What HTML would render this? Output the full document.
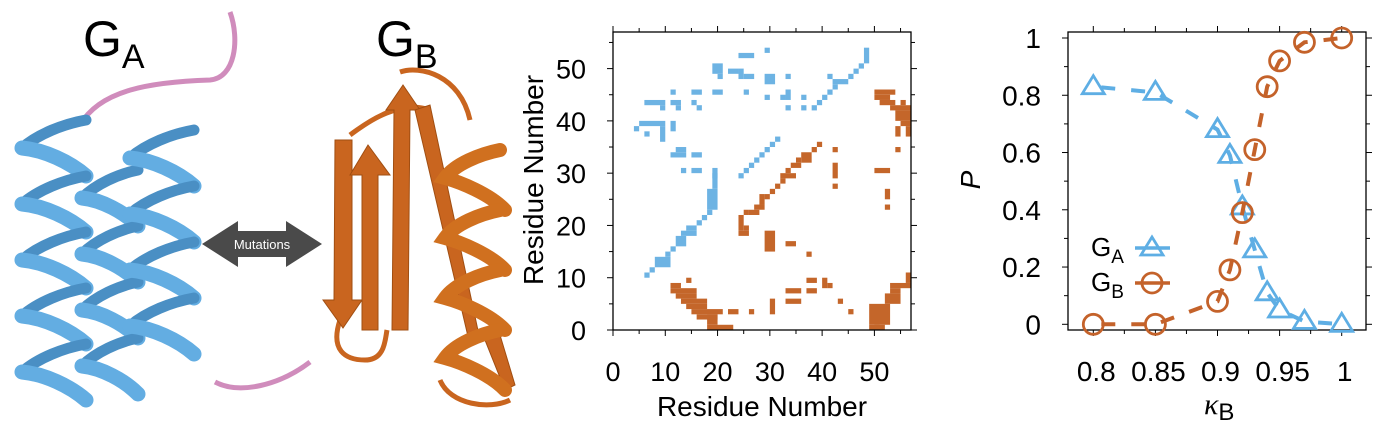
<!DOCTYPE html>
<html><head><meta charset="utf-8"><style>
body{margin:0;background:#fff;width:1384px;height:431px;overflow:hidden;font-family:"Liberation Sans",sans-serif}
svg{position:absolute;left:0;top:0}
</style></head><body>
<svg id="fig" width="1384" height="431" viewBox="0 0 1384 431">
<g id="proteins">
 <text x="83" y="56" font-size="50">G<tspan font-size="34" dy="12">A</tspan></text>
 <text x="376" y="56" font-size="50">G<tspan font-size="34" dy="12">B</tspan></text>
 <path d="M80,125 C100,90 150,82 210,80 C235,78 240,40 230,12" fill="none" stroke="#d08cbc" stroke-width="5"/>
 <path d="M215,382 C240,395 280,385 310,362" fill="none" stroke="#d08cbc" stroke-width="5"/>
 <g id="helices"></g>
 <g fill="#c9651f" stroke="#a04e12" stroke-width="1">
  <path d="M400,72 C420,65 460,75 470,120 M350,135 C370,120 400,100 430,110 M340,320 C330,350 345,360 365,360 C385,360 385,340 387,330 M440,380 C450,405 490,410 510,400" fill="none" stroke="#c9651f" stroke-width="5"/>
  <polygon points="335,140 352,140 352,300 362,300 343,328 323,300 334,300"/>
  <polygon points="362,330 378,330 378,175 390,175 368,145 350,175 362,175"/>
  <polygon points="392,330 408,330 410,110 420,110 403,85 386,110 394,110"/>
  <polygon points="415,110 430,105 480,340 470,345"/>
  <polygon points="485,340 500,335 515,385 505,390"/>
 </g>
 <g id="gbhelix"></g>
 <g>
  <polygon points="202,244 238,221 238,231 286,231 286,221 322,244 286,267 286,257 238,257 238,267" fill="#4a4a4a"/>
  <text x="262" y="249" font-size="13" fill="#fff" text-anchor="middle">Mutations</text>
 </g>
</g>
<g id="cmap"></g>
<g id="pplot"></g>
</svg>
<script>
const NS="http://www.w3.org/2000/svg";
function mk(tag,attrs,parent){const e=document.createElementNS(NS,tag);for(const k in attrs)e.setAttribute(k,attrs[k]);parent.appendChild(e);return e;}
// helices (illustration)
const hg=document.getElementById('helices');
[[54,120,375,32],[110,170,400,28],[162,130,370,32]].forEach(h=>{
 const [cx,y0,y1,w]=h;let y=y0;
 while(y<y1-20){
  const back=mk('path',{d:`M${cx+w},${y} C${cx+w*0.3},${y+4} ${cx-w*0.5},${y+14} ${cx-w},${y+28}`,fill:"none",stroke:"#4a8fc4","stroke-width":11,"stroke-linecap":"round"},hg);
  
  
  const front=mk('path',{d:`M${cx-w},${y+28} C${cx-w*0.3},${y+30} ${cx+w*0.5},${y+42} ${cx+w},${y+56}`,fill:"none",stroke:"#63ade2","stroke-width":15,"stroke-linecap":"round"},hg);
  
  
  y+=56;
 }
});
(function(){const g=document.getElementById('gbhelix');let y=150;
 while(y<380){
  const p=mk('path',{d:`M500,${y} C480,${y+4} 455,${y+14} 445,${y+28} C460,${y+32} 490,${y+44} 505,${y+60}`,fill:"none",stroke:"#d0701f","stroke-width":14,"stroke-linecap":"round"},g);
  
  
  y+=60;}
})();

// ===== Contact map data: rectangles [x0,x1,y0,y1] in residue units =====
const blueCells=[[6,6,10,10],[7,7,11,11],[8,10,12,13],[10,10,14,14],[11,11,15,15],[12,13,16,17],[13,15,18,18],[14,15,19,19],[16,16,20,20],[17,17,21,21],[18,18,22,22],[18,19,23,26],[19,19,27,29],
[24,24,29,29],[25,25,30,30],[26,26,31,31],[27,27,32,32],[28,28,33,33],[29,29,34,34],[30,30,35,35],[31,31,36,36],
[38,38,42,42],[39,39,43,43],[40,40,44,44],[41,41,45,45],[42,42,46,46],[42,44,47,47],[41,41,48,48],[45,45,48,48],[46,46,49,49],[47,47,50,50],[48,48,51,53],
[24,26,52,52],[29,29,53,53],[19,20,49,50],[20,20,48,48],[22,23,49,49],[24,24,48,49],[25,26,48,48],[29,30,47,48],[33,33,48,48],
[11,11,45,45],[15,16,45,45],[19,20,45,45],[25,25,45,45],[29,29,44,44],[32,32,44,44],[33,33,44,45],[36,36,44,44],
[6,9,43,43],[9,9,42,42],[11,12,43,43],[12,12,42,42],[15,15,43,43],[16,16,42,42],[33,33,42,42],[36,36,42,42],
[5,9,39,39],[4,4,38,38],[6,6,37,37],[9,9,36,38],[11,11,38,39],[11,13,33,33],[12,13,34,34],[15,16,33,33],[13,13,30,30],[15,16,30,30],[19,19,29,30]];
const orangeCells=[[24,24,19,21],[25,25,19,19],[25,25,22,22],[26,27,22,22],[27,28,23,23],[28,28,24,25],[29,29,25,25],[30,30,26,26],[31,31,27,27],[32,32,28,28],[32,34,29,29],[33,33,30,30],[34,35,31,31],[35,35,32,32],[36,37,32,33],[38,38,34,34],[39,39,35,35],
[42,42,34,34],[42,42,29,31],[42,42,27,27],[50,52,30,30],[52,52,25,26],[52,52,23,23],[54,54,34,34],
[24,25,18,18],[29,30,15,18],[33,34,16,16],[37,37,14,14],[37,38,9,9],[37,38,7,7],[40,40,8,9],[41,41,8,8],[33,35,7,7],[33,35,5,5],[30,30,3,5],[26,26,3,3],[22,23,3,3],[18,22,0,0],[18,19,1,2],
[14,14,9,9],[11,12,8,8],[11,15,7,7],[12,15,6,6],[13,17,5,5],[14,17,4,4],[15,20,3,3],[16,19,2,2],
[43,43,5,5],[45,45,3,3],[49,52,1,4],[49,51,0,0],[50,50,0,0],[52,54,5,6],[53,54,7,7],[53,56,8,8],[56,56,9,10],
[50,53,45,45],[50,52,44,44],[51,53,43,43],[55,55,43,43],[53,56,42,42],[54,56,40,41],[55,56,39,39],[54,54,37,38],[56,56,37,38]];
const cmTicks=[0,10,20,30,40,50];
(function(){
 const g=document.getElementById('cmap');
 const L=613,R=911,T=32,B=330,xmax=57,ymax=57;
 const sx=v=>L+v*(R-L)/xmax, sy=v=>B-v*(B-T)/ymax;
 function draw(arr,col,name){arr.forEach(c=>{
  const r=mk('rect',{x:sx(c[0]),y:sy(c[3]+1),width:sx(c[1]+1)-sx(c[0]),height:sy(c[2])-sy(c[3]+1),fill:col},g);
  
  });}
 draw(blueCells,"#6db3e3","ga-contact");draw(orangeCells,"#c4662a","gb-contact");
 mk('rect',{x:L,y:T,width:R-L,height:B-T,fill:"none",stroke:"#000","stroke-width":1.3},g);
 for(let v=0;v<=55;v+=5){const big=v%10==0,len=big?6:4;
  mk('line',{x1:sx(v),x2:sx(v),y1:B,y2:B+len,stroke:"#000"},g);mk('line',{x1:sx(v),x2:sx(v),y1:T,y2:T-len,stroke:"#000"},g);
  mk('line',{y1:sy(v),y2:sy(v),x1:L,x2:L-len,stroke:"#000"},g);mk('line',{y1:sy(v),y2:sy(v),x1:R,x2:R+len,stroke:"#000"},g);}
 cmTicks.forEach(v=>{
  const t=mk('text',{x:sx(v),y:381,"font-size":27,"text-anchor":"middle"},g);t.textContent=v;
  
  
  const u=mk('text',{x:586,y:sy(v)+10,"font-size":27,"text-anchor":"end"},g);u.textContent=v;
  
  });
 const xt=mk('text',{x:762,y:416,"font-size":28,"text-anchor":"middle"},g);xt.textContent="Residue Number";
 
 
 const yt=mk('text',{x:0,y:0,"font-size":28,"text-anchor":"middle",transform:"translate(543,180) rotate(-90)"},g);yt.textContent="Residue Number";
 
 
})();

// ===== Probability plot data =====
const kappa=[0.8,0.85,0.9,0.91,0.92,0.93,0.94,0.95,0.97,1.0];
const pGA=[0.83,0.81,0.68,0.59,0.41,0.26,0.11,0.05,0.01,0.0];
const pGB=[0.0,0.0,0.08,0.19,0.39,0.61,0.83,0.92,0.985,1.0];
const xTickVals=[0.8,0.85,0.9,0.95,1];
const xTickText=["0.8","0.85","0.9","0.95","1"];
const yTickVals=[0,0.2,0.4,0.6,0.8,1];
const yTickText=["0","0.2","0.4","0.6","0.8","1"];
(function(){
 const g=document.getElementById('pplot');
 const L=1068,R=1366,T=32,B=330;
 const sx=v=>1093.3+(v-0.8)*(1341.7-1093.3)/0.2, sy=v=>324.3-v*(324.3-38)/1;
 mk('rect',{x:L,y:T,width:R-L,height:B-T,fill:"none",stroke:"#000","stroke-width":1.3},g);
 for(let i=0;i<=8;i++){const v=0.8+i*0.025,len=i%2==0?6:4;
  mk('line',{x1:sx(v),x2:sx(v),y1:B,y2:B+len,stroke:"#000"},g);mk('line',{x1:sx(v),x2:sx(v),y1:T,y2:T-len,stroke:"#000"},g);}
 for(let i=0;i<=10;i++){const v=i*0.1,len=i%2==0?6:4;
  mk('line',{y1:sy(v),y2:sy(v),x1:L,x2:L-len,stroke:"#000"},g);mk('line',{y1:sy(v),y2:sy(v),x1:R,x2:R+len,stroke:"#000"},g);}
 xTickVals.forEach((v,i)=>{const t=mk('text',{x:sx(v)+3,y:381,"font-size":28,"text-anchor":"middle"},g);t.textContent=xTickText[i];
  
  });
 yTickVals.forEach((v,i)=>{const t=mk('text',{x:1041,y:sy(v)+10,"font-size":28,"text-anchor":"end"},g);t.textContent=yTickText[i];
  
  });
 const xt=mk('text',{x:1204,y:414,"font-size":30,"font-style":"italic","font-family":"Liberation Serif"},g);xt.innerHTML='κ<tspan font-size="24" dy="6" font-style="normal" font-family="Liberation Sans">B</tspan>';
 
 
 const yt=mk('text',{x:0,y:0,"font-size":28,"font-style":"italic","text-anchor":"middle",transform:"translate(980,180) rotate(-90)"},g);yt.textContent="P";
 
 
 function series(vals,col,name,tri){
  let d="";kappa.forEach((k,i)=>{d+=(i?"L":"M")+sx(k)+","+sy(vals[i]);});
  const ln=mk('path',{d:d,fill:"none",stroke:col,"stroke-width":4,"stroke-dasharray":"14,16","stroke-dashoffset":"-8"},g);
  
  
  kappa.forEach((k,i)=>{const x=sx(k),y=sy(vals[i]);let m;
   if(tri)m=mk('polygon',{points:`${x},${y-11} ${x-11},${y+7} ${x+11},${y+7}`,fill:"none",stroke:col,"stroke-width":2.8},g);
   else m=mk('circle',{cx:x,cy:y,r:10,fill:"none",stroke:col,"stroke-width":2.8},g);
   
   });
 }
 series(pGA,"#5eaee4","ga",true);series(pGB,"#c4622a","gb",false);
 // legend
 const lg=mk('g',{},g);
 
 
 const a=mk('text',{x:1091,y:256,"font-size":26},lg);a.innerHTML='G<tspan font-size="19" dy="7">A</tspan>';
 mk('line',{x1:1135,x2:1170,y1:248,y2:248,stroke:"#5eaee4","stroke-width":3.5},lg);
 mk('polygon',{points:"1152,237 1141,255 1163,255",fill:"none",stroke:"#5eaee4","stroke-width":2.8},lg);
 const b=mk('text',{x:1091,y:291,"font-size":26},lg);b.innerHTML='G<tspan font-size="19" dy="7">B</tspan>';
 mk('line',{x1:1135,x2:1170,y1:283,y2:283,stroke:"#c4622a","stroke-width":3.5},lg);
 mk('circle',{cx:1152,cy:283,r:10,fill:"none",stroke:"#c4622a","stroke-width":2.8},lg);
})();
</script>
</body></html>
